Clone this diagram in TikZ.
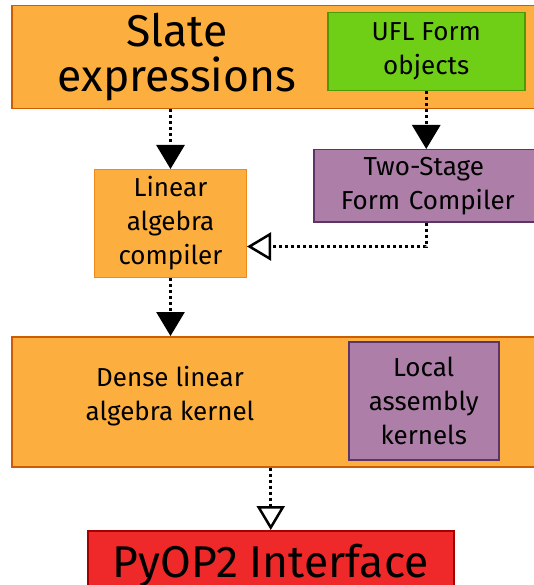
\documentclass[tikz,border=0pt]{standalone}
\usepackage{fontspec}
\setmainfont{Fira Sans}
\usetikzlibrary{arrows.meta}
\definecolor{orfill}{HTML}{FCAF3E}
\definecolor{ordraw}{HTML}{CE5C00}
\definecolor{orlight}{HTML}{F08A1A}
\definecolor{grfill}{HTML}{6FCF16}
\definecolor{grdraw}{HTML}{4E9A06}
\definecolor{plfill}{HTML}{AD7FA8}
\definecolor{pldraw}{HTML}{5C3566}
\definecolor{rdfill}{HTML}{EF2929}
\definecolor{rddraw}{HTML}{A40000}
\begin{document}
\begin{tikzpicture}[x=1pt,y=-1pt,
    box/.style={draw,line width=1.5pt,inner sep=0pt,anchor=north west,align=center},
    stage/.style={box,fill=orfill,draw=ordraw},
    forms/.style={box,fill=plfill,draw=pldraw},
    big/.style={font=\fontsize{44.5}{45}\selectfont,align=center},
    mid/.style={font=\fontsize{26}{34}\selectfont,align=center},
    flow/.style={line width=3pt,dash pattern=on 3pt off 3pt,-{Triangle[width=28pt,length=24pt]}},
    hand/.style={line width=3pt,dash pattern=on 3pt off 3pt,-{Triangle[open,width=28pt,length=24pt,line width=2.5pt]}}]
    \clip (0,0) rectangle (534,585);
    % top row
    \node[stage,minimum width=530pt,minimum height=103pt] (slate) at (11,5) {};
    \node[big] (slatetxt) at (177,57) {Slate\\expressions};
    \node[box,mid,fill=grfill,draw=grdraw,minimum width=197pt,minimum height=78pt] (ufl) at (327,12) {UFL Form\\objects};
    % compilers
    \node[box,mid,fill=orfill,draw=orlight,line width=1pt,minimum width=152pt,minimum height=108pt] (lac) at (94,169) {Linear\\algebra\\compiler};
    \node[forms,mid,minimum width=230pt,minimum height=72pt,text width=222pt] (tsfc) at (313,149) {\hspace*{-10pt}Two-Stage\\\hspace*{-2pt}Form Compiler};
    % kernels
    \node[stage,minimum width=530pt,minimum height=130pt] (dense) at (11,336) {};
    \node[mid] (densetxt) at (170,396) {Dense linear\\algebra kernel};
    \node[forms,mid,minimum width=150pt,minimum height=118pt] (local) at (348,341) {Local\\assembly\\kernels};
    \node[box,big,fill=rdfill,draw=rddraw,minimum width=366pt,minimum height=70pt] (pyop) at (87,530) {\raisebox{-1pt}{PyOP2 Interface}};
    % connectors
    \draw[flow] (slate.south -| lac.north) -- (lac.north);
    \draw[flow] (ufl.south) -- (ufl.south |- tsfc.north);
    \draw[hand] (tsfc.south -| ufl.south) |- ([yshift=-23pt]lac.east);
    \draw[flow] (lac.south) -- (lac.south |- dense.north);
    \draw[hand] (dense.south -| pyop.north) -- (pyop.north);
\end{tikzpicture}
\end{document}
